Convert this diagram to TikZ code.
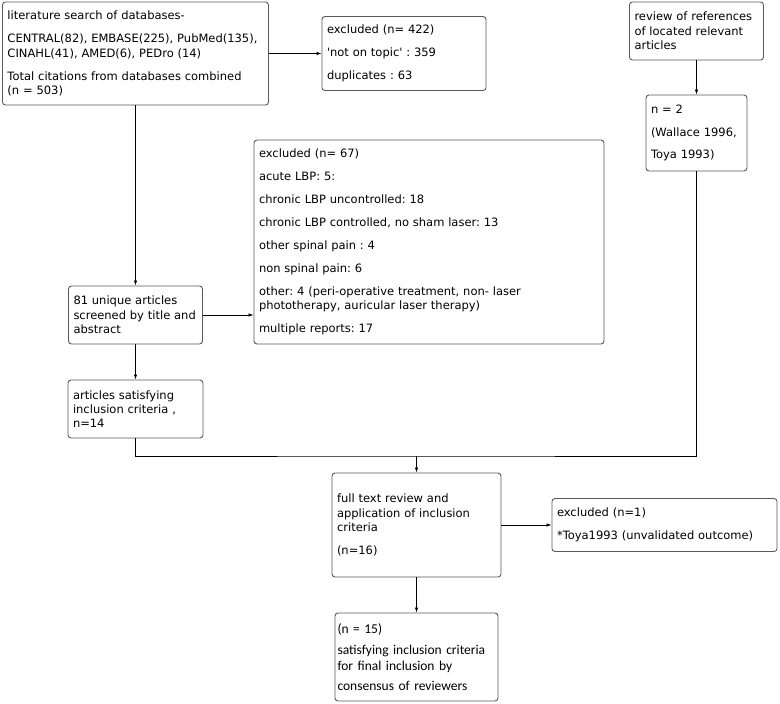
\documentclass[tikz,border=0pt]{standalone}
\usepackage{fontspec}
\setmainfont{DejaVu Sans}[Ligatures=TeXOff]
\newfontfamily\calfont{Carlito}
\usetikzlibrary{arrows.meta,positioning,calc}
\frenchspacing

\begin{document}
\begin{tikzpicture}[x=1pt, y=-1pt,
        box/.style={draw=black!65, line width=0.9pt, rounded corners=3pt, align=left,
            inner xsep=5pt, inner ysep=3pt, font=\fontsize{11.5}{14.3}\selectfont},
        link/.style={-{Latex[length=5pt,width=3.5pt]}, line width=0.8pt}]
        \def\gap{8.6pt}
        \useasboundingbox (0,0) rectangle (780,704);

        % database search
        \node[box, text width=256, minimum height=103] (search) at (135.5,53.5)
            {literature search of databases-\\[\gap]
             CENTRAL(82), EMBASE(225), PubMed(135),\\
             CINAHL(41), AMED(6), PEDro (14)\\[\gap]
             Total citations from databases combined\\
             (n = 503)};
        \node[box, text width=154, minimum height=74] (excl1) at (404,53.5)
            {excluded (n= 422)\\[\gap]
             'not on topic' : 359\\[\gap]
             duplicates : 63};

        % reference lists
        \node[box, text width=124, minimum height=58] (refs) at (696.5,31)
            {review of references\\
             of located relevant\\
             articles};
        \node[box, text width=91, minimum height=76] (found) at (696.5,133)
            {n = 2\\[\gap]
             (Wallace 1996,\\[\gap]
             Toya 1993)};

        % screening
        \node[box, text width=340, minimum height=204] (excl2) at (429,242)
            {excluded (n= 67)\\[\gap]
             acute LBP: 5:\\[\gap]
             chronic LBP uncontrolled: 18\\[\gap]
             chronic LBP controlled, no sham laser: 13\\[\gap]
             other spinal pain : 4\\[\gap]
             non spinal pain: 6\\[\gap]
             other: 4 (peri-operative treatment, non- laser\\
             phototherapy, auricular laser therapy)\\[\gap]
             multiple reports: 17};
        \node[box, text width=124, minimum height=58] (screen) at (135.5,315)
            {81 unique articles\\
             screened by title and\\
             abstract};
        \node[box, text width=125, minimum height=58] (incl) at (135.5,409)
            {articles satisfying\\
             inclusion criteria ,\\
             n=14};

        % full text
        \coordinate (join) at (416.5,456);
        \node[box, text width=159, minimum height=104] (full) at (416.5,525)
            {full text review and\\
             application of inclusion\\
             criteria\\[\gap]
             (n=16)};
        \node[box, text width=215, minimum height=53] (excl3) at (664.5,525)
            {excluded (n=1)\\[\gap]
             *Toya1993 (unvalidated outcome)};
        \node[box, text width=158, inner xsep=2.5pt, minimum height=88,
              font=\calfont\fontsize{13.5}{16}\selectfont] (final) at (416.5,657)
            {(n = 15)\\[5pt]
             satisfying inclusion criteria\\
             for final inclusion by\\[4pt]
             consensus of reviewers};

        % connectors
        \draw[link] (search) -- (screen);
        \draw[link] (search) -- (excl1);
        \draw[link] (refs) -- (found);
        \draw[link] (screen.east) -- (screen.east -| excl2.west);
        \draw[link] (screen) -- (incl);
        \draw[line width=0.8pt] (incl.south) |- (join) -| (found.south);
        \draw[link] (join) -- (full);
        \draw[link] (full) -- (excl3);
        \draw[link] (full) -- (final);
    \end{tikzpicture}
\end{document}
